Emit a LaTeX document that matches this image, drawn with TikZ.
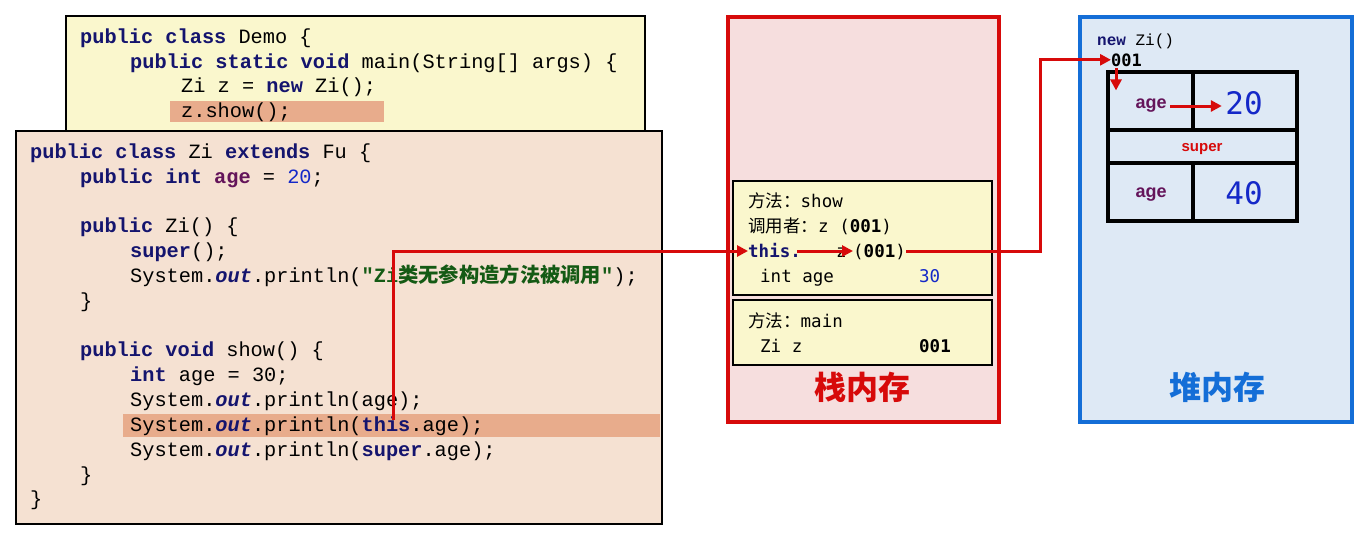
\documentclass[tikz,border=0pt]{standalone}
\usepackage{fontspec}
\setmainfont{Liberation Sans}
\setmonofont{Liberation Mono}
\newfontfamily\cjk{Noto Sans CJK SC}
\newfontfamily\sansmono{DejaVu Sans Mono}
\usetikzlibrary{arrows.meta,positioning}
\definecolor{kwcol}{RGB}{20,20,110}
\definecolor{fldcol}{RGB}{100,20,90}
\definecolor{strcol}{RGB}{20,90,20}
\definecolor{numcol}{RGB}{20,40,200}
\definecolor{demofill}{RGB}{250,247,205}
\definecolor{zifill}{RGB}{245,225,210}
\definecolor{hl}{RGB}{232,172,140}
\definecolor{stackfill}{RGB}{246,222,222}
\definecolor{stackred}{RGB}{215,10,10}
\definecolor{heapfill}{RGB}{222,233,245}
\definecolor{heapblue}{RGB}{20,110,215}
\newcommand{\kw}[1]{\textbf{\color{kwcol}#1}}
\newcommand{\fld}[1]{\textbf{\color{fldcol}#1}}
\newcommand{\st}[1]{\textbf{\textit{\color{kwcol}#1}}}
\tikzset{
  code/.style = {anchor=base west, inner sep=0pt, font=\ttfamily\fontsize{20.3}{22}\selectfont},
  frame/.style = {anchor=base west, inner sep=0pt, font=\sansmono\fontsize{17.5}{20}\selectfont},
  box/.style = {draw=black, line width=1.5pt},
  ref/.style = {draw=stackred, line width=3pt, -{Triangle[length=11pt,width=11pt]}},
  cell/.style = {font=\bfseries\fontsize{18}{20}\selectfont, text=fldcol},
  num/.style = {font=\sansmono\fontsize{31}{31}\selectfont, text=numcol}
}
\begin{document}
\begin{tikzpicture}[x=1pt, y=-1pt]
    \useasboundingbox (0, 0) rectangle (1371, 538);
    \fill [white] (0, 0) rectangle (1371, 538);

    % Demo
    \draw [box, fill=demofill] (66, 16) rectangle (645, 140);
    \fill [hl] (170, 101) rectangle (384, 122);
    \node [code] (demo1) at (80, 43) {\kw{public class} Demo \{};
    \node [code] (demo2) at (130, 68) {\kw{public static void} main(String[] args) \{};
    \node [code] (demo3) at (181, 92) {Zi z = \kw{new} Zi();};
    \node [code] (demo4) at (181, 117) {z.show();};

    % Zi
    \draw [box, fill=zifill] (16, 131) rectangle (662, 524);
    \fill [hl] (123, 414) rectangle (660, 437);
    \node [code] (zi1) at (30, 158) {\kw{public class} Zi \kw{extends} Fu \{};
    \node [code] (zi2) at (80, 183) {\kw{public int} \fld{age} = {\color{numcol}20};};
    \node [code] (zi3) at (80, 232) {\kw{public} Zi() \{};
    \node [code] (zi4) at (130, 257) {\kw{super}();};
    \node [code] (zi5) at (130, 282) {System.\st{out}.println(\textbf{\color{strcol}"Zi{\cjk 类无参构造方法被调用}"});};
    \node [code] (zi6) at (80, 307) {\}};
    \node [code] (zi7) at (80, 356) {\kw{public void} show() \{};
    \node [code] (zi8) at (130, 381) {\kw{int} age = 30;};
    \node [code] (zi9) at (130, 406) {System.\st{out}.println(age);};
    \node [code] (zi10) at (130, 431) {System.\st{out}.println(\kw{this}.age);};
    \node [code] (zi11) at (130, 456) {System.\st{out}.println(\kw{super}.age);};
    \node [code] (zi12) at (80, 481) {\}};
    \node [code] (zi13) at (30, 505) {\}};

    % Stack
    \draw [draw=stackred, line width=3.5pt, fill=stackfill] (728, 17) rectangle (999, 422);
    \draw [box, fill=demofill] (733, 181) rectangle (992, 295);
    \draw [box, fill=demofill] (733, 300) rectangle (992, 365);
    \node [frame] (m1) at (748, 207) {{\cjk 方法：}show};
    \node [frame] (caller) at (748, 232) {{\cjk 调用者：}z (\textbf{001})};
    \node [frame] (this) at (748, 257) {\textbf{\color{kwcol}this.}};
    \node [frame] (zref) at (836, 257) {z};
    \node [frame] (addr) at (853, 257) {(\textbf{001})};
    \node [frame] (local) at (760, 282) {int age};
    \node [frame, text=numcol] (v30) at (919, 282) {30};
    \node [frame] (m2) at (748, 327) {{\cjk 方法：}main};
    \node [frame] (zvar) at (760, 352) {Zi z};
    \node [frame] (zaddr) at (919, 352) {\textbf{001}};
    \node [text=stackred, font=\cjk\bfseries\fontsize{32}{32}\selectfont] (stack) at (862, 387) {栈内存};

    % Heap
    \draw [draw=heapblue, line width=3.5pt, fill=heapfill] (1080, 17) rectangle (1352, 422);
    \node [code, font=\ttfamily\fontsize{16}{18}\selectfont] (newzi) at (1097, 45) {\kw{new} Zi()};
    \node [code, font=\sansmono\bfseries\fontsize{17}{18}\selectfont] (obj) at (1111, 66) {001};
    \draw [line width=3.5pt] (1108, 72) rectangle (1297, 221);
    \draw [line width=3.5pt] (1108, 130) -- (1297, 130) (1108, 163) -- (1297, 163);
    \draw [line width=3.5pt] (1193, 72) -- (1193, 130) (1193, 163) -- (1193, 221);
    \node [cell] (age1) at (1151, 106) {age};
    \node [num] (v20) at (1244, 103) {20};
    \node [font=\bfseries\fontsize{15}{16}\selectfont, text=stackred] (super) at (1202, 149) {super};
    \node [cell] (age2) at (1151, 195) {age};
    \node [num] (v40) at (1244, 193) {40};
    \node [text=heapblue, font=\cjk\bfseries\fontsize{32}{32}\selectfont] (heap) at (1217, 387) {堆内存};

    % references
    \coordinate (src) at (393, 420);
    \coordinate (hop) at (1040, 251);
    \draw [ref] (src) |- (this.west |- hop);
    \draw [ref] (this.east |- hop) ++(-4, 0) -- (addr.west |- hop);
    \draw [ref] (addr.east |- hop) -- (hop) |- (obj.west);
    \draw [ref] (obj.south west) ++(5, 2) -- ++(0, 22);
    \draw [ref] (age1.east) -- (age1.east -| v20.west);
\end{tikzpicture}
\end{document}
